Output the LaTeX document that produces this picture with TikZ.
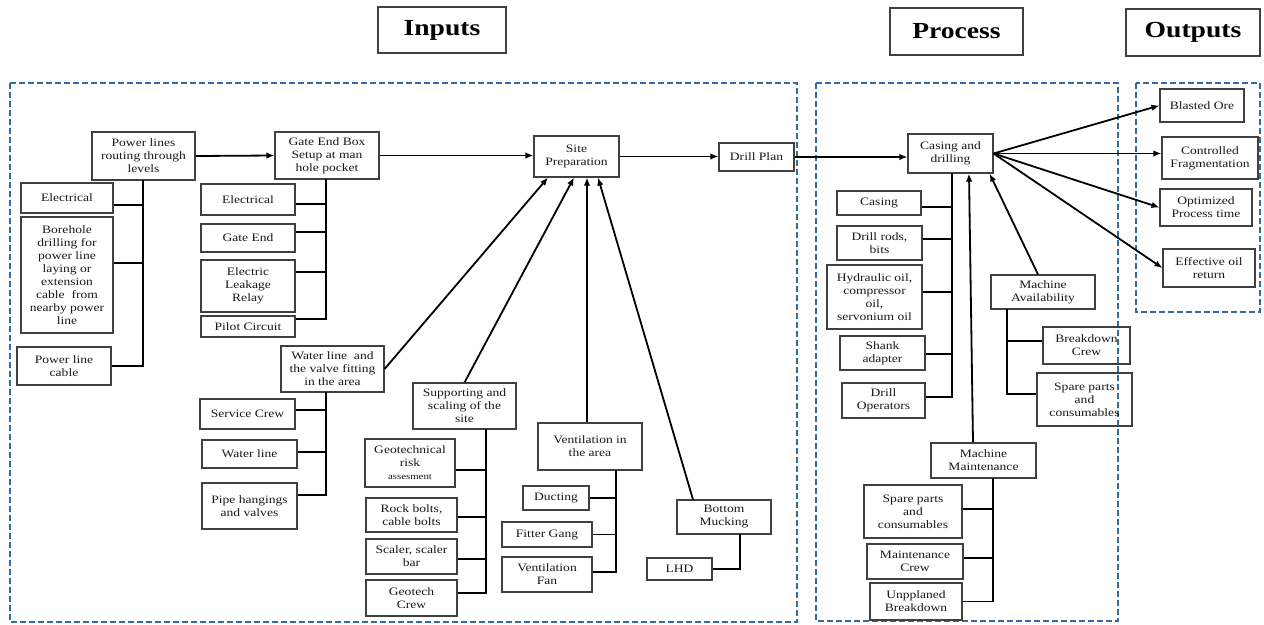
\documentclass[tikz,border=0pt]{standalone}
\usepackage{fontspec}
\setmainfont{Liberation Serif}[FakeStretch=1.2]
\usetikzlibrary{arrows.meta}
\definecolor{grpblue}{RGB}{52,107,165}
\newcommand\mkbox[6]{\node[nbox,minimum width={(#4-#2)*1pt},minimum height={(#5-#3)*1pt}] (#1) at ({(#2+#4)/2},{(#3+#5)/2}) {#6};}
\begin{document}
\begin{tikzpicture}[x=1pt,y=-1pt,
  nbox/.style={draw=black!75, line width=1.1pt, align=center, inner sep=1pt, text=black!90, font=\fontsize{11.3}{13}\selectfont},
  conn/.style={line width=1.9pt},
  arr/.style={line width=1.8pt, -{Latex[length=8pt,width=6.5pt]}},
  grp/.style={draw=grpblue, dash pattern=on 6pt off 3pt, line width=1.6pt},
  ttl/.style={draw=black!75, line width=1.1pt, font=\fontsize{23}{25}\selectfont\bfseries}]
\useasboundingbox (0,0) rectangle (1264,624);

% titles
\node[ttl, minimum width=128pt, minimum height=46pt] (tin) at (442,30) {Inputs};
\node[ttl, minimum width=133pt, minimum height=47pt] (tpr) at (956.5,31.5) {Process};
\node[ttl, minimum width=134pt, minimum height=47pt] (tout) at (1193,32.5) {Outputs};

% groups
\draw[grp] (10,83) rectangle (797,622);
\draw[grp] (816,83) rectangle (1118,621);
\draw[grp] (1136,83) rectangle (1260,312);

% inputs
\mkbox{pl}{92}{132}{195}{180}{Power lines\\routing through\\levels}
\mkbox{ge}{275}{132}{379}{179}{Gate End Box\\Setup at man\\hole pocket}
\mkbox{el1}{21}{183}{113}{213}{Electrical}
\mkbox{bh}{21}{217}{113}{333}{Borehole\\drilling for\\power line\\laying or\\extension\\cable\ \ from\\nearby power\\line}
\mkbox{plc}{17}{347}{111}{385}{Power line\\cable}
\mkbox{el2}{201}{184}{295}{215}{Electrical}
\mkbox{gend}{201}{224}{295}{252}{Gate End}
\mkbox{elr}{201}{260}{295}{312}{Electric\\Leakage\\Relay}
\mkbox{pc}{201}{316}{295}{337}{Pilot Circuit}
\mkbox{wl}{281}{346}{384}{392}{Water line\ \ and\\the valve fitting\\in the area}
\mkbox{sc}{200}{399}{295}{429}{Service Crew}
\mkbox{wline}{202}{440}{297}{468}{Water line}
\mkbox{ph}{202}{483}{297}{529}{Pipe hangings\\and valves}
\mkbox{sp}{534}{136}{619}{177}{Site\\Preparation}
\mkbox{dp}{719}{143}{794}{171}{Drill Plan}
\mkbox{sup}{413}{383}{516}{429}{Supporting and\\scaling of the\\site}
\mkbox{geo}{365}{439}{455}{487}{Geotechnical\\risk\\{\fontsize{9}{11}\selectfont assesment}}
\mkbox{rb}{366}{498}{457}{532}{Rock bolts,\\cable bolts}
\mkbox{scl}{366}{539}{457}{574}{Scaler, scaler\\bar}
\mkbox{gc}{366}{580}{457}{616}{Geotech\\Crew}
\mkbox{ven}{538}{423}{642}{470}{Ventilation in\\the area}
\mkbox{duc}{523}{486}{589}{510}{Ducting}
\mkbox{fg}{502}{522}{592}{547}{Fitter Gang}
\mkbox{vf}{502}{557}{592}{592}{Ventilation\\Fan}
\mkbox{bm}{677}{500}{771}{534}{Bottom\\Mucking}
\mkbox{lhd}{647}{558}{712}{580}{LHD}

% process
\mkbox{cd}{908}{134}{993}{173}{Casing and\\drilling}
\mkbox{cas}{837}{191}{921}{215}{Casing}
\mkbox{dr}{837}{226}{922}{260}{Drill rods,\\bits}
\mkbox{hy}{827}{265}{922}{329}{Hydraulic oil,\\compressor\\oil,\\servonium oil}
\mkbox{sh}{840}{336}{925}{370}{Shank\\adapter}
\mkbox{do}{842}{383}{925}{418}{Drill\\Operators}
\mkbox{ma}{991}{275}{1095}{309}{Machine\\Availability}
\mkbox{bc}{1043}{327}{1130}{364}{Breakdown\\Crew}
\mkbox{spa}{1037}{373}{1132}{426}{Spare parts\\and\\consumables}
\mkbox{mm}{931}{443}{1036}{478}{Machine\\Maintenance}
\mkbox{sp2}{864}{485}{962}{538}{Spare parts\\and\\consumables}
\mkbox{mc}{867}{544}{963}{579}{Maintenance\\Crew}
\mkbox{ub}{870}{583}{962}{620}{Unpplaned\\Breakdown}

% outputs
\mkbox{bo}{1160}{89}{1244}{122}{Blasted Ore}
\mkbox{cf}{1162}{137}{1258}{179}{Controlled\\Fragmentation}
\mkbox{op}{1160}{189}{1252}{226}{Optimized\\Process time}
\mkbox{eo}{1163}{249}{1255}{287}{Effective oil\\return}

% trunk tops
\coordinate (plT) at (143,180);
\coordinate (geT) at (326,179);
\coordinate (wlT) at (326,392);
\coordinate (supT) at (486,429);
\coordinate (venT) at (616,470);
\coordinate (bmT) at (740,534);
\coordinate (cdT) at (952,173);
\coordinate (maT) at (1007,309);
\coordinate (mmT) at (993,478);

% trees
\draw[conn] (plT) |- ([yshift=-7pt]el1.east);
\draw[conn] (plT) |- ([yshift=12pt]bh.east);
\draw[conn] (plT) |- (plc.east);

\draw[conn] (geT) |- ([yshift=-4.5pt]el2.east);
\draw[conn] (geT) |- ([yshift=6pt]gend.east);
\draw[conn] (geT) |- ([yshift=14pt]elr.east);
\draw[conn] (geT) |- ([yshift=7.5pt]pc.east);

\draw[conn] (wlT) |- ([yshift=4pt]sc.east);
\draw[conn] (wlT) |- ([yshift=2pt]wline.east);
\draw[conn] (wlT) |- ([yshift=11pt]ph.east);

\draw[conn] (supT) |- ([yshift=-7pt]geo.east);
\draw[conn] (supT) |- ([yshift=-2pt]rb.east);
\draw[conn] (supT) |- ([yshift=-2.5pt]scl.east);
\draw[conn] (supT) |- ([yshift=5pt]gc.east);

\draw[conn] (venT) |- (duc.east);
\draw[conn] (venT) |- (fg.east);
\draw[conn] (venT) |- ([yshift=2.5pt]vf.east);

\draw[conn] (bmT) |- (lhd.east);

\draw[conn] (cdT) |- ([yshift=-4pt]cas.east);
\draw[conn] (cdT) |- ([yshift=4pt]dr.east);
\draw[conn] (cdT) |- ([yshift=5pt]hy.east);
\draw[conn] (cdT) |- ([yshift=-1pt]sh.east);
\draw[conn] (cdT) |- ([yshift=3.5pt]do.east);

\draw[conn] (maT) |- ([yshift=4.5pt]bc.west);
\draw[conn] (maT) |- ([yshift=5.5pt]spa.west);

\draw[conn] (mmT) |- ([yshift=2.5pt]sp2.east);
\draw[conn] (mmT) |- ([yshift=3.5pt]mc.east);
\draw[conn] (mmT) |- (ub.east);

% arrows
\draw[arr] (pl.east) -- (ge.west);
\draw[arr] (ge.east) -- (ge.east -| sp.west);
\draw[arr] (sp.east) -- (sp.east -| dp.west);
\draw[arr] (dp.east) -- (dp.east -| cd.west);
\draw[arr] (wl.east) -- ([xshift=-28.5pt]sp.south);
\draw[arr] (sup.north) -- ([xshift=-2.5pt]sp.south);
\draw[arr] ([xshift=-3pt]ven.north) -- ([xshift=10.5pt]sp.south);
\draw[arr] ([xshift=-31pt]bm.north) -- ([xshift=21.5pt]sp.south);
\draw[arr] (cd.east) -- (bo.west);
\draw[arr] (cd.east) -- (cd.east -| cf.west);
\draw[arr] (cd.east) -- (op.west);
\draw[arr] (cd.east) -- (eo.west);
\draw[arr] ([xshift=-10.5pt]mm.north) -- ([xshift=18.5pt]cd.south);
\draw[arr] ([xshift=-5pt]ma.north) -- ([xshift=-4pt]cd.south east);
\end{tikzpicture}
\end{document}
